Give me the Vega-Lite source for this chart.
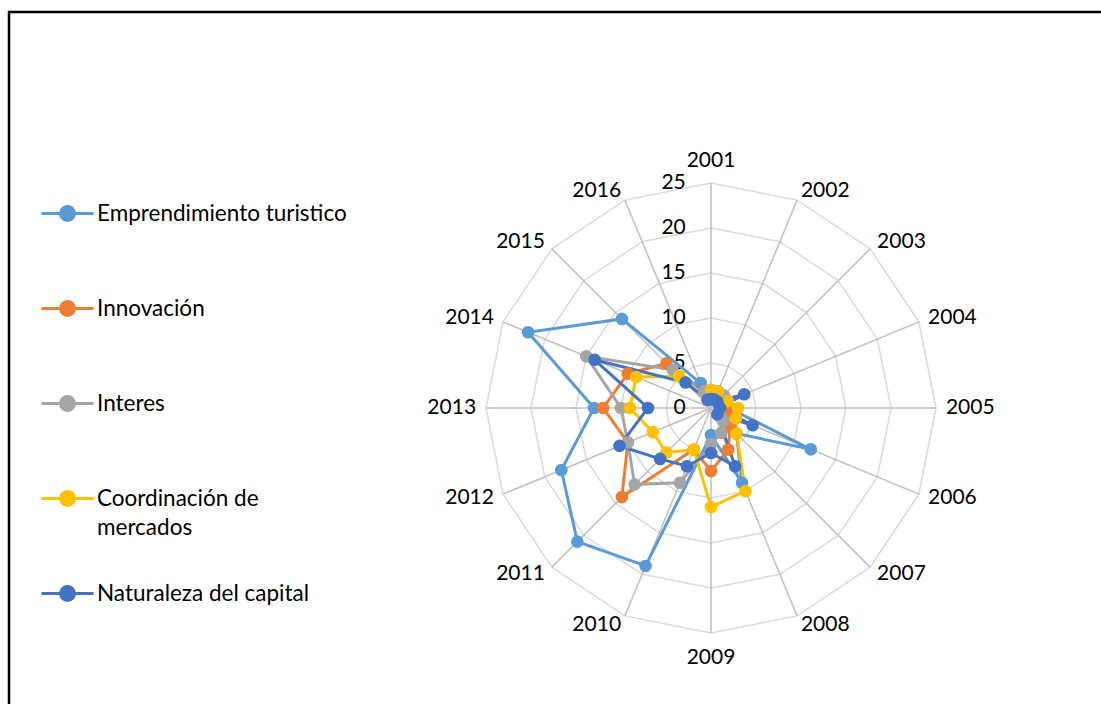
{
  "$schema": "https://vega.github.io/schema/vega-lite/v6.json",
  "width": 1092,
  "height": 692,
  "autosize": "none",
  "padding": {"left": 9, "top": 12, "right": 0, "bottom": 0},
  "background": "white",
  "config": {
    "view": {"stroke": "black", "strokeWidth": 2.5, "strokeDash": [1092, 1784, 692]},
    "font": "Lato"
  },
  "datasets": {
    "years": [
      {"year": 2001, "levels": [5, 10, 15, 20, 25]},
      {"year": 2002, "levels": [5, 10, 15, 20, 25]},
      {"year": 2003, "levels": [5, 10, 15, 20, 25]},
      {"year": 2004, "levels": [5, 10, 15, 20, 25]},
      {"year": 2005, "levels": [5, 10, 15, 20, 25]},
      {"year": 2006, "levels": [5, 10, 15, 20, 25]},
      {"year": 2007, "levels": [5, 10, 15, 20, 25]},
      {"year": 2008, "levels": [5, 10, 15, 20, 25]},
      {"year": 2009, "levels": [5, 10, 15, 20, 25]},
      {"year": 2010, "levels": [5, 10, 15, 20, 25]},
      {"year": 2011, "levels": [5, 10, 15, 20, 25]},
      {"year": 2012, "levels": [5, 10, 15, 20, 25]},
      {"year": 2013, "levels": [5, 10, 15, 20, 25]},
      {"year": 2014, "levels": [5, 10, 15, 20, 25]},
      {"year": 2015, "levels": [5, 10, 15, 20, 25]},
      {"year": 2016, "levels": [5, 10, 15, 20, 25]}
    ],
    "ticks": [{"t": 0}, {"t": 5}, {"t": 10}, {"t": 15}, {"t": 20}, {"t": 25}],
    "series": [
      {"s": "Emprendimiento turistico", "year": 2001, "v": 2},
      {"s": "Emprendimiento turistico", "year": 2002, "v": 2},
      {"s": "Emprendimiento turistico", "year": 2003, "v": 1},
      {"s": "Emprendimiento turistico", "year": 2004, "v": 2},
      {"s": "Emprendimiento turistico", "year": 2005, "v": 2},
      {"s": "Emprendimiento turistico", "year": 2006, "v": 12},
      {"s": "Emprendimiento turistico", "year": 2007, "v": 4},
      {"s": "Emprendimiento turistico", "year": 2008, "v": 9},
      {"s": "Emprendimiento turistico", "year": 2009, "v": 3},
      {"s": "Emprendimiento turistico", "year": 2010, "v": 19},
      {"s": "Emprendimiento turistico", "year": 2011, "v": 21},
      {"s": "Emprendimiento turistico", "year": 2012, "v": 18},
      {"s": "Emprendimiento turistico", "year": 2013, "v": 13},
      {"s": "Emprendimiento turistico", "year": 2014, "v": 22},
      {"s": "Emprendimiento turistico", "year": 2015, "v": 14},
      {"s": "Emprendimiento turistico", "year": 2016, "v": 3},
      {"s": "Innovación", "year": 2001, "v": 1},
      {"s": "Innovación", "year": 2002, "v": 1},
      {"s": "Innovación", "year": 2003, "v": 1},
      {"s": "Innovación", "year": 2004, "v": 1},
      {"s": "Innovación", "year": 2005, "v": 2},
      {"s": "Innovación", "year": 2006, "v": 2},
      {"s": "Innovación", "year": 2007, "v": 3},
      {"s": "Innovación", "year": 2008, "v": 5},
      {"s": "Innovación", "year": 2009, "v": 7},
      {"s": "Innovación", "year": 2010, "v": 5},
      {"s": "Innovación", "year": 2011, "v": 14},
      {"s": "Innovación", "year": 2012, "v": 10},
      {"s": "Innovación", "year": 2013, "v": 12},
      {"s": "Innovación", "year": 2014, "v": 10},
      {"s": "Innovación", "year": 2015, "v": 7},
      {"s": "Innovación", "year": 2016, "v": 2},
      {"s": "Interes", "year": 2001, "v": 2},
      {"s": "Interes", "year": 2002, "v": 2},
      {"s": "Interes", "year": 2003, "v": 2},
      {"s": "Interes", "year": 2004, "v": 2},
      {"s": "Interes", "year": 2005, "v": 1},
      {"s": "Interes", "year": 2006, "v": 1},
      {"s": "Interes", "year": 2007, "v": 2},
      {"s": "Interes", "year": 2008, "v": 3},
      {"s": "Interes", "year": 2009, "v": 4},
      {"s": "Interes", "year": 2010, "v": 9},
      {"s": "Interes", "year": 2011, "v": 12},
      {"s": "Interes", "year": 2012, "v": 10},
      {"s": "Interes", "year": 2013, "v": 10},
      {"s": "Interes", "year": 2014, "v": 15},
      {"s": "Interes", "year": 2015, "v": 6},
      {"s": "Interes", "year": 2016, "v": 2},
      {"s": "Coordinación de mercados", "year": 2001, "v": 2},
      {"s": "Coordinación de mercados", "year": 2002, "v": 2},
      {"s": "Coordinación de mercados", "year": 2003, "v": 1},
      {"s": "Coordinación de mercados", "year": 2004, "v": 2},
      {"s": "Coordinación de mercados", "year": 2005, "v": 3},
      {"s": "Coordinación de mercados", "year": 2006, "v": 3},
      {"s": "Coordinación de mercados", "year": 2007, "v": 4},
      {"s": "Coordinación de mercados", "year": 2008, "v": 10},
      {"s": "Coordinación de mercados", "year": 2009, "v": 11},
      {"s": "Coordinación de mercados", "year": 2010, "v": 5},
      {"s": "Coordinación de mercados", "year": 2011, "v": 7},
      {"s": "Coordinación de mercados", "year": 2012, "v": 7},
      {"s": "Coordinación de mercados", "year": 2013, "v": 9},
      {"s": "Coordinación de mercados", "year": 2014, "v": 9},
      {"s": "Coordinación de mercados", "year": 2015, "v": 5},
      {"s": "Coordinación de mercados", "year": 2016, "v": 1},
      {"s": "Naturaleza del capital", "year": 2001, "v": 1},
      {"s": "Naturaleza del capital", "year": 2002, "v": 1},
      {"s": "Naturaleza del capital", "year": 2003, "v": 1},
      {"s": "Naturaleza del capital", "year": 2004, "v": 4},
      {"s": "Naturaleza del capital", "year": 2005, "v": 1},
      {"s": "Naturaleza del capital", "year": 2006, "v": 5},
      {"s": "Naturaleza del capital", "year": 2007, "v": 1},
      {"s": "Naturaleza del capital", "year": 2008, "v": 7},
      {"s": "Naturaleza del capital", "year": 2009, "v": 5},
      {"s": "Naturaleza del capital", "year": 2010, "v": 7},
      {"s": "Naturaleza del capital", "year": 2011, "v": 8},
      {"s": "Naturaleza del capital", "year": 2012, "v": 11},
      {"s": "Naturaleza del capital", "year": 2013, "v": 7},
      {"s": "Naturaleza del capital", "year": 2014, "v": 14},
      {"s": "Naturaleza del capital", "year": 2015, "v": 4},
      {"s": "Naturaleza del capital", "year": 2016, "v": 1}
    ]
  },
  "encoding": {
    "x": {"field": "x", "type": "quantitative", "scale": {"domain": [-78, 43.333], "nice": false, "zero": false}, "axis": null},
    "y": {"field": "y", "type": "quantitative", "scale": {"domain": [-32.889, 44], "nice": false, "zero": false}, "axis": null}
  },
  "layer": [
    {
      "data": {"name": "years"},
      "transform": [
        {"flatten": ["levels"], "as": ["level"]},
        {"calculate": "(datum.year - 2001) * PI / 8", "as": "a"},
        {"calculate": "datum.level * sin(datum.a)", "as": "x"},
        {"calculate": "datum.level * cos(datum.a)", "as": "y"}
      ],
      "mark": {"type": "line", "interpolate": "linear-closed", "color": "#D9D9D9", "strokeWidth": 1.5},
      "encoding": {"detail": {"field": "level", "type": "nominal"}, "order": {"field": "year", "type": "quantitative"}}
    },
    {
      "data": {"name": "years"},
      "transform": [
        {"calculate": "(datum.year - 2001) * PI / 8", "as": "a"},
        {"calculate": "25 * sin(datum.a)", "as": "x"},
        {"calculate": "25 * cos(datum.a)", "as": "y"}
      ],
      "mark": {"type": "rule", "color": "#BFBFBF", "strokeWidth": 1.5},
      "encoding": {"x2": {"datum": 0}, "y2": {"datum": 0}}
    },
    {
      "data": {"name": "ticks"},
      "transform": [
        {"calculate": "datum.t", "as": "y"},
        {"calculate": "-2.8", "as": "x"}
      ],
      "mark": {"type": "text", "align": "right", "baseline": "middle", "font": "Lato", "fontSize": 21, "color": "black"},
      "encoding": {"text": {"field": "t", "type": "nominal"}}
    },
    {
      "data": {"name": "years"},
      "transform": [
        {"calculate": "(datum.year - 2001) * PI / 8", "as": "a"},
        {"filter": "sin(datum.a) > 0.01"},
        {"calculate": "26.1 * sin(datum.a)", "as": "x"},
        {"calculate": "26.1 * cos(datum.a)", "as": "y"}
      ],
      "mark": {"type": "text", "align": "left", "baseline": "middle", "font": "Lato", "fontSize": 21, "color": "black"},
      "encoding": {"text": {"field": "year", "type": "nominal"}}
    },
    {
      "data": {"name": "years"},
      "transform": [
        {"calculate": "(datum.year - 2001) * PI / 8", "as": "a"},
        {"filter": "sin(datum.a) < -0.01"},
        {"calculate": "26.1 * sin(datum.a)", "as": "x"},
        {"calculate": "26.1 * cos(datum.a)", "as": "y"}
      ],
      "mark": {"type": "text", "align": "right", "baseline": "middle", "font": "Lato", "fontSize": 21, "color": "black"},
      "encoding": {"text": {"field": "year", "type": "nominal"}}
    },
    {
      "data": {"name": "years"},
      "transform": [
        {"filter": "datum.year == 2001"},
        {"calculate": "0", "as": "x"},
        {"calculate": "26.3", "as": "y"}
      ],
      "mark": {"type": "text", "align": "center", "baseline": "bottom", "font": "Lato", "fontSize": 21, "color": "black"},
      "encoding": {"text": {"field": "year", "type": "nominal"}}
    },
    {
      "data": {"name": "years"},
      "transform": [
        {"filter": "datum.year == 2009"},
        {"calculate": "0", "as": "x"},
        {"calculate": "-26.6", "as": "y"}
      ],
      "mark": {"type": "text", "align": "center", "baseline": "top", "font": "Lato", "fontSize": 21, "color": "black"},
      "encoding": {"text": {"field": "year", "type": "nominal"}}
    },
    {
      "data": {"name": "series"},
      "transform": [
        {"calculate": "(datum.year - 2001) * PI / 8", "as": "a"},
        {"calculate": "datum.v * sin(datum.a)", "as": "x"},
        {"calculate": "datum.v * cos(datum.a)", "as": "y"}
      ],
      "encoding": {
        "color": {
          "field": "s",
          "type": "nominal",
          "scale": {
            "domain": ["Emprendimiento turistico", "Innovación", "Interes", "Coordinación de mercados", "Naturaleza del capital"],
            "range": ["#5B9BD5", "#ED7D31", "#A5A5A5", "#FFC000", "#4472C4"]
          },
          "legend": {
            "title": null,
            "orient": "none",
            "legendX": 27,
            "legendY": 170,
            "direction": "vertical",
            "padding": 0,
            "symbolType": "M-0.867,0H0.867M0.233,0A0.233,0.233,0,1,1,-0.233,0A0.233,0.233,0,1,1,0.233,0Z",
            "symbolSize": 3600,
            "symbolStrokeWidth": 3,
            "rowPadding": 23,
            "labelFont": "Lato",
            "labelFontSize": 22.5,
            "labelColor": "black",
            "labelOffset": -2,
            "labelLimit": 500,
            "labelExpr": "datum.label == 'Coordinación de mercados' ? ['Coordinación de', 'mercados'] : [datum.label, '']",
            "encode": {
              "symbols": {"update": {"stroke": {"scale": "color", "field": "value"}, "fill": {"scale": "color", "field": "value"}, "opacity": {"value": 1}}},
              "labels": {"update": {"lineHeight": {"value": 29}}}
            }
          }
        }
      },
      "layer": [
        {
          "mark": {"type": "line", "interpolate": "linear-closed", "strokeWidth": 3},
          "encoding": {"order": {"field": "year", "type": "quantitative"}}
        },
        {
          "mark": {"type": "circle", "size": 160, "opacity": 1}
        }
      ]
    }
  ]
}
